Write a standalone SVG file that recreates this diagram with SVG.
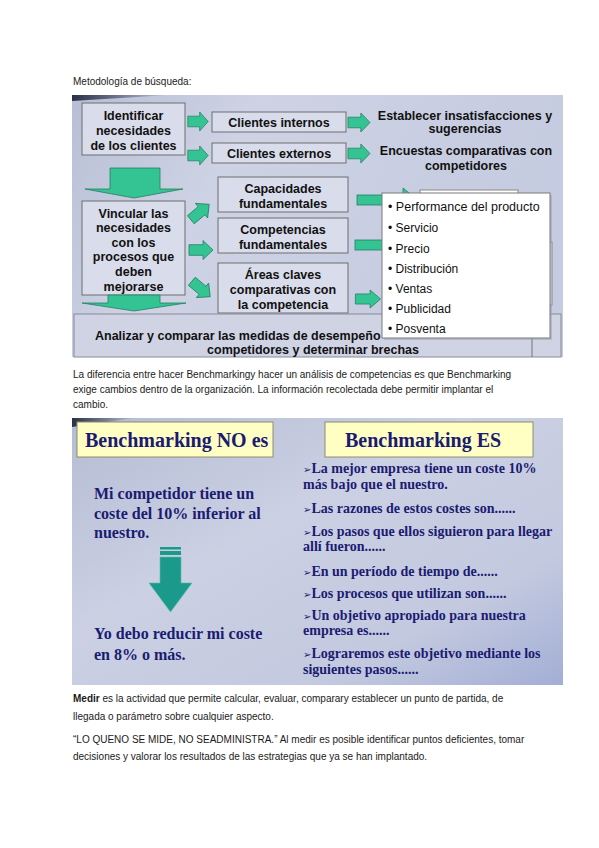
<svg xmlns="http://www.w3.org/2000/svg" width="599" height="848" viewBox="0 0 599 848">
<style>
.doc{font-family:"Liberation Sans",Arial,sans-serif;font-size:10px;fill:#1a1a1a}
.bx{fill:#d9dcea;stroke:#6e6e6e;stroke-width:1}
.bt{font-family:"Liberation Sans",Arial,sans-serif;font-size:12.5px;font-weight:bold;fill:#111;text-anchor:middle}
.lt{font-family:"Liberation Sans",Arial,sans-serif;font-size:12px;fill:#111}
.ga{fill:#34c493;stroke:#23805f;stroke-width:0.8}
.yb{fill:#ffffc4;stroke:#8c8c70;stroke-width:1}
.st{font-family:"Liberation Serif","Times New Roman",serif;font-weight:bold;fill:#1b1b72}
.ar{font-family:"DejaVu Sans",sans-serif;font-size:10px;font-weight:normal}
</style>
<defs>
<linearGradient id="bg1" x1="0" y1="0" x2="1" y2="0.3">
<stop offset="0" stop-color="#b8bfd5"/>
<stop offset="0.35" stop-color="#cdd2e4"/>
<stop offset="1" stop-color="#c5cbe0"/>
</linearGradient>
<linearGradient id="bg2" x1="0" y1="0" x2="1" y2="1">
<stop offset="0" stop-color="#b5bcd3"/>
<stop offset="0.4" stop-color="#cbd0e3"/>
<stop offset="0.75" stop-color="#c3c9df"/>
<stop offset="1" stop-color="#a2aed5"/>
</linearGradient>
<linearGradient id="dk" x1="0" y1="0" x2="1" y2="0">
<stop offset="0" stop-color="#2a3048"/>
<stop offset="1" stop-color="#2a3048" stop-opacity="0"/>
</linearGradient>
<path id="harrow" d="M-12,-5.3 L2,-5.3 L2,-9.5 L12,0 L2,9.5 L2,5.3 L-12,5.3 Z"/>
</defs>
<rect width="599" height="848" fill="#ffffff"/>

<text class="doc" x="73" y="85">Metodología de búsqueda:</text>

<g id="picture1">
<rect x="72" y="95" width="491" height="262" fill="url(#bg1)"/>
<polygon points="72,95 170,95 72,101" fill="url(#dk)"/>
</g>

<g id="node-identificar">
<rect class="bx" x="82" y="103" width="103" height="52"/>
<text class="bt" x="133.5" y="119.5">Identificar</text>
<text class="bt" x="133.5" y="134.5">necesidades</text>
<text class="bt" x="133.5" y="149.5">de los clientes</text>
</g>
<g id="node-internos">
<rect class="bx" x="212" y="112" width="134" height="20"/>
<text class="bt" x="279" y="126.5">Clientes internos</text>
</g>
<g id="node-externos">
<rect class="bx" x="212" y="143" width="134" height="20"/>
<text class="bt" x="279" y="157.5">Clientes externos</text>
</g>
<g id="node-establecer">
<text class="bt" x="465" y="119.5">Establecer insatisfacciones y</text>
<text class="bt" x="465" y="133">sugerencias</text>
</g>
<g id="node-encuestas">
<text class="bt" x="466" y="154.5">Encuestas comparativas con</text>
<text class="bt" x="466" y="169.5">competidores</text>
</g>
<g id="node-vincular">
<rect class="bx" x="82" y="201" width="103" height="94"/>
<text class="bt" x="133.5" y="217.5">Vincular las</text>
<text class="bt" x="133.5" y="232">necesidades</text>
<text class="bt" x="133.5" y="246.5">con los</text>
<text class="bt" x="133.5" y="261">procesos que</text>
<text class="bt" x="133.5" y="276">deben</text>
<text class="bt" x="133.5" y="290.5">mejorarse</text>
</g>
<g id="node-capacidades">
<rect class="bx" x="218" y="177" width="130" height="35"/>
<text class="bt" x="283" y="193">Capacidades</text>
<text class="bt" x="283" y="207.5">fundamentales</text>
</g>
<g id="node-competencias">
<rect class="bx" x="218" y="218" width="130" height="35"/>
<text class="bt" x="283" y="234">Competencias</text>
<text class="bt" x="283" y="248.5">fundamentales</text>
</g>
<g id="node-areas">
<rect class="bx" x="218" y="263" width="130" height="50"/>
<text class="bt" x="283" y="278.5">Áreas claves</text>
<text class="bt" x="283" y="293.5">comparativas con</text>
<text class="bt" x="283" y="308.5">la competencia</text>
</g>
<g id="node-analizar">
<rect x="74" y="314" width="487" height="43" fill="#cfd3e4" stroke="#8a8a98" stroke-width="1"/>
<text class="bt" x="95" y="339.5" style="text-anchor:start">Analizar y comparar las medidas de desempeño</text>
<text class="bt" x="313" y="354">competidores y determinar brechas</text>
</g>

<g id="connectors">
<use href="#harrow" class="ga" transform="translate(198,121.5) scale(0.85,1)"/>
<use href="#harrow" class="ga" transform="translate(198,155.5) scale(0.85,1)"/>
<use href="#harrow" class="ga" transform="translate(359,122.5) scale(0.92,1)"/>
<use href="#harrow" class="ga" transform="translate(359,153.5) scale(0.92,1)"/>
<polygon class="ga" points="110,168 160,168 160,189 183,189 134,198 85,189 110,189"/>
<polygon class="ga" points="108,295 160,295 160,303 186,303 134,311 82,303 108,303"/>
<use href="#harrow" class="ga" transform="translate(200,212) rotate(-40)"/>
<use href="#harrow" class="ga" transform="translate(201,250)"/>
<use href="#harrow" class="ga" transform="translate(201,289) rotate(40)"/>
<rect x="420" y="190" width="98" height="20" fill="#ffffff" stroke="#888" stroke-width="1"/>
<rect x="500" y="242" width="52" height="63" fill="#ffffff" stroke="#888" stroke-width="1"/>
<line x1="532" y1="338" x2="532" y2="357" stroke="#777" stroke-width="1"/>
<polygon class="ga" points="403,188 411,194.5 403,201"/>
<rect class="ga" x="357" y="195" width="26" height="10"/>
<rect class="ga" x="355" y="240" width="28" height="10"/>
<use href="#harrow" class="ga" transform="translate(368,299) scale(1.05,0.95)"/>
</g>

<g id="node-lista">
<rect x="384" y="195" width="168" height="145" fill="#9aa0b4" opacity="0.5"/>
<rect x="382" y="193" width="168" height="145" fill="#ffffff" stroke="#7a7a7a" stroke-width="1"/>
<text class="lt" x="388" y="210.5" style="font-size:12.5px">• Performance del producto</text>
<text class="lt" x="388" y="231.5">• Servicio</text>
<text class="lt" x="388" y="252.5">• Precio</text>
<text class="lt" x="388" y="272.5">• Distribución</text>
<text class="lt" x="388" y="292.5">• Ventas</text>
<text class="lt" x="388" y="312.5">• Publicidad</text>
<text class="lt" x="388" y="332.5">• Posventa</text>
</g>

<text class="doc" x="73" y="377.5">La diferencia entre hacer Benchmarkingy hacer un análisis de competencias es que Benchmarking</text>
<text class="doc" x="73" y="392.5">exige cambios dentro de la organización. La información recolectada debe permitir implantar el</text>
<text class="doc" x="73" y="407.5">cambio.</text>

<g id="picture2">
<rect x="72" y="418" width="491" height="267" fill="url(#bg2)"/>
<polygon points="72,418 135,418 72,427" fill="url(#dk)"/>
</g>

<g id="node-no-es">
<rect class="yb" x="77" y="422" width="196" height="35"/>
<text class="st" x="85" y="447" style="font-size:20px">Benchmarking NO es</text>
</g>
<g id="node-es">
<rect class="yb" x="325" y="422" width="208" height="35"/>
<text class="st" x="345" y="447" style="font-size:20px">Benchmarking ES</text>
</g>
<g id="node-competidor">
<text class="st" style="font-size:16px" x="94" y="499">Mi competidor tiene un</text>
<text class="st" style="font-size:16px" x="94" y="518.5">coste del 10% inferior al</text>
<text class="st" style="font-size:16px" x="94" y="538">nuestro.</text>
</g>
<g id="connectors2">
<rect x="160" y="547" width="21" height="2.5" fill="#1b9a8c"/>
<rect x="160" y="551" width="21" height="4" fill="#1b9a8c"/>
<polygon points="160,557 181,557 181,583 192,583 170.5,612 149,583 160,583" fill="#1b9a8c" stroke="#5cbcb0" stroke-width="0.6"/>
</g>
<g id="node-reducir">
<text class="st" style="font-size:16px" x="94" y="639">Yo debo reducir mi coste</text>
<text class="st" style="font-size:16px" x="94" y="659.5">en 8% o más.</text>
</g>
<g id="node-es-lista" style="font-size:14px">
<text class="st" x="303" y="473"><tspan class="ar">➢</tspan>La mejor empresa tiene un coste 10%</text>
<text class="st" x="303" y="488.5">más bajo que el nuestro.</text>
<text class="st" x="303" y="512.5"><tspan class="ar">➢</tspan>Las razones de estos costes son......</text>
<text class="st" x="303" y="535.5"><tspan class="ar">➢</tspan>Los pasos que ellos siguieron para llegar</text>
<text class="st" x="303" y="551">allí fueron......</text>
<text class="st" x="303" y="575.5"><tspan class="ar">➢</tspan>En un período de tiempo de......</text>
<text class="st" x="303" y="597.5"><tspan class="ar">➢</tspan>Los procesos que utilizan son......</text>
<text class="st" x="303" y="619.5"><tspan class="ar">➢</tspan>Un objetivo apropiado para nuestra</text>
<text class="st" x="303" y="635">empresa es......</text>
<text class="st" x="303" y="658"><tspan class="ar">➢</tspan>Lograremos este objetivo mediante los</text>
<text class="st" x="303" y="673.5">siguientes pasos......</text>
</g>

<text class="doc" x="73" y="701.5"><tspan font-weight="bold">Medir</tspan> es la actividad que permite calcular, evaluar, comparary establecer un punto de partida, de</text>
<text class="doc" x="73" y="719.5">llegada o parámetro sobre cualquier aspecto.</text>
<text class="doc" x="73" y="742.5">“LO QUENO SE MIDE, NO SEADMINISTRA.” Al medir es posible identificar puntos deficientes, tomar</text>
<text class="doc" x="73" y="759.5">decisiones y valorar los resultados de las estrategias que ya se han implantado.</text>
</svg>
